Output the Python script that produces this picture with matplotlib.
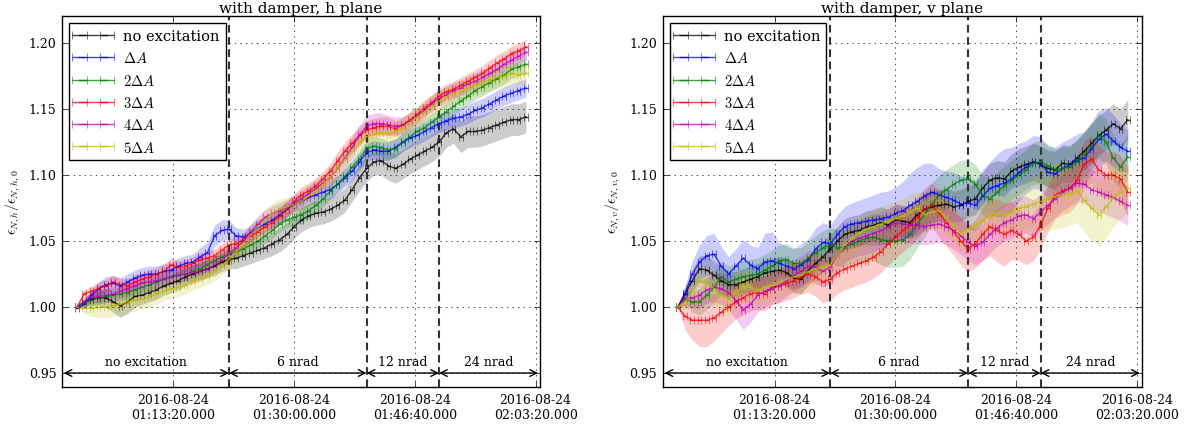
import numpy as np
import matplotlib
matplotlib.use("Agg")
import matplotlib.pyplot as plt
import matplotlib.dates as mdates

plt.style.use("classic")
plt.rcParams["font.family"] = "serif"
plt.rcParams["font.serif"] = ["DejaVu Serif"]
plt.rcParams["mathtext.fontset"] = "cm"

# one sample per minute from 01:00:00
start = np.datetime64("2016-08-24T01:00:00")
times = mdates.date2num(start + np.arange(63) * np.timedelta64(60, "s"))
bin_half = 15.0 / 86400  # half width of the time bin (days)

labels = ["no excitation", r"$\Delta A$", r"$2\Delta A$", r"$3\Delta A$", r"$4\Delta A$", r"$5\Delta A$"]
colors = ["k", "b", "g", "r", "m", "y"]

# ---- h plane: mean emittance growth
h_k = [1.000, 1.004, 1.006, 1.007, 1.007, 1.004, 1.001, 1.004, 1.008, 1.009,
       1.011, 1.013, 1.016, 1.018, 1.020, 1.023, 1.025, 1.027, 1.029, 1.031,
       1.034, 1.036, 1.037, 1.039, 1.041, 1.043, 1.045, 1.048, 1.051, 1.055,
       1.061, 1.066, 1.069, 1.071, 1.072, 1.074, 1.077, 1.081, 1.089, 1.098,
       1.105, 1.110, 1.111, 1.107, 1.105, 1.108, 1.112, 1.115, 1.118, 1.121,
       1.125, 1.132, 1.135, 1.129, 1.133, 1.133, 1.134, 1.136, 1.138, 1.140,
       1.142, 1.142, 1.144]
h_b = [0.999, 1.002, 1.009, 1.014, 1.017, 1.018, 1.016, 1.019, 1.022, 1.024,
       1.025, 1.025, 1.027, 1.028, 1.031, 1.033, 1.034, 1.038, 1.041, 1.054,
       1.058, 1.059, 1.054, 1.053, 1.056, 1.060, 1.063, 1.066, 1.070, 1.074,
       1.078, 1.080, 1.083, 1.085, 1.087, 1.089, 1.093, 1.098, 1.103, 1.110,
       1.117, 1.119, 1.118, 1.118, 1.121, 1.125, 1.128, 1.130, 1.133, 1.136,
       1.139, 1.141, 1.143, 1.144, 1.146, 1.149, 1.151, 1.154, 1.157, 1.160,
       1.162, 1.164, 1.166]
h_g = [1.000, 1.003, 1.005, 1.007, 1.008, 1.009, 1.010, 1.011, 1.013, 1.015,
       1.017, 1.019, 1.021, 1.023, 1.024, 1.025, 1.027, 1.029, 1.032, 1.035,
       1.038, 1.040, 1.042, 1.044, 1.047, 1.050, 1.054, 1.058, 1.063, 1.066,
       1.068, 1.070, 1.073, 1.077, 1.082, 1.088, 1.093, 1.099, 1.106, 1.112,
       1.120, 1.122, 1.121, 1.119, 1.120, 1.125, 1.129, 1.133, 1.136, 1.140,
       1.144, 1.148, 1.152, 1.156, 1.160, 1.164, 1.167, 1.170, 1.173, 1.176,
       1.180, 1.182, 1.184]
h_r = [1.000, 1.010, 1.012, 1.014, 1.016, 1.019, 1.017, 1.016, 1.019, 1.021,
       1.023, 1.025, 1.027, 1.032, 1.030, 1.031, 1.033, 1.036, 1.037, 1.039,
       1.043, 1.047, 1.048, 1.051, 1.054, 1.057, 1.061, 1.064, 1.069, 1.074,
       1.080, 1.085, 1.088, 1.092, 1.097, 1.103, 1.111, 1.118, 1.124, 1.130,
       1.134, 1.136, 1.137, 1.137, 1.135, 1.138, 1.142, 1.146, 1.151, 1.155,
       1.160, 1.163, 1.165, 1.168, 1.171, 1.174, 1.177, 1.181, 1.185, 1.188,
       1.192, 1.194, 1.197]
h_m = [1.000, 1.004, 1.007, 1.008, 1.009, 1.010, 1.012, 1.014, 1.016, 1.018,
       1.019, 1.020, 1.021, 1.023, 1.024, 1.025, 1.026, 1.027, 1.029, 1.032,
       1.036, 1.040, 1.045, 1.050, 1.057, 1.063, 1.068, 1.071, 1.073, 1.076,
       1.079, 1.082, 1.086, 1.090, 1.094, 1.098, 1.105, 1.113, 1.121, 1.130,
       1.137, 1.139, 1.139, 1.138, 1.137, 1.138, 1.141, 1.145, 1.149, 1.154,
       1.158, 1.161, 1.164, 1.166, 1.169, 1.171, 1.174, 1.177, 1.180, 1.184,
       1.187, 1.190, 1.193]
h_y = [1.000, 0.999, 0.999, 1.000, 1.000, 1.001, 1.002, 1.004, 1.005, 1.006,
       1.008, 1.010, 1.012, 1.014, 1.015, 1.017, 1.020, 1.022, 1.024, 1.027,
       1.031, 1.036, 1.042, 1.048, 1.055, 1.060, 1.066, 1.071, 1.074, 1.076,
       1.078, 1.080, 1.084, 1.088, 1.093, 1.098, 1.105, 1.112, 1.119, 1.125,
       1.129, 1.131, 1.132, 1.131, 1.133, 1.136, 1.140, 1.144, 1.148, 1.152,
       1.156, 1.159, 1.162, 1.164, 1.166, 1.168, 1.170, 1.172, 1.174, 1.175,
       1.177, 1.176, 1.177]

# h plane: spread (1e-3)
h_k_std = [0, 3, 5, 6, 7, 8, 9, 9, 8, 7, 7, 7, 7, 7, 7, 7, 7, 7, 7, 7,
           7, 7, 8, 8, 8, 8, 8, 9, 9, 9, 9, 9, 9, 9, 9, 9, 9, 9, 9, 10,
           10, 10, 11, 11, 11, 11, 11, 11, 11, 11, 11, 11, 11, 12, 12, 12, 12, 12, 12, 12,
           12, 12, 12]
h_b_std = [0, 3, 4, 5, 6, 6, 6, 6, 6, 6, 6, 6, 6, 6, 6, 6, 6, 7, 8, 8,
           8, 7, 6, 6, 6, 6, 6, 6, 6, 6, 6, 6, 6, 6, 6, 7, 7, 7, 7, 7,
           7, 7, 7, 7, 7, 7, 7, 7, 7, 7, 7, 7, 7, 7, 7, 7, 7, 7, 7, 7,
           7, 7, 7]
h_g_std = [0, 3, 4, 5, 5, 5, 5, 5, 5, 5, 5, 5, 5, 5, 5, 5, 5, 5, 5, 5,
           5, 5, 5, 5, 5, 5, 5, 6, 6, 6, 6, 6, 6, 6, 6, 6, 6, 6, 6, 7,
           7, 7, 7, 7, 7, 7, 7, 7, 7, 7, 7, 7, 7, 7, 7, 7, 7, 7, 7, 7,
           7, 7, 7]
h_r_std = [0, 3, 4, 5, 5, 5, 5, 5, 5, 5, 5, 5, 5, 5, 5, 5, 5, 5, 5, 5,
           5, 5, 5, 5, 5, 5, 6, 6, 6, 6, 6, 6, 6, 6, 6, 6, 7, 7, 7, 7,
           7, 7, 7, 7, 6, 6, 6, 6, 6, 6, 6, 6, 6, 6, 6, 6, 6, 6, 6, 6,
           6, 6, 6]
h_m_std = [0, 3, 4, 5, 5, 5, 5, 6, 6, 6, 6, 6, 6, 6, 6, 6, 6, 6, 6, 6,
           6, 6, 6, 6, 6, 6, 6, 6, 6, 6, 6, 6, 6, 6, 6, 7, 7, 8, 8, 8,
           8, 8, 8, 7, 7, 6, 6, 6, 6, 6, 6, 6, 6, 6, 6, 6, 6, 6, 6, 6,
           6, 6, 6]
h_y_std = [0, 4, 6, 8, 8, 8, 8, 8, 8, 8, 8, 8, 7, 7, 7, 7, 7, 7, 7, 7,
           7, 7, 7, 7, 8, 8, 8, 8, 8, 7, 7, 7, 7, 7, 7, 7, 7, 7, 7, 7,
           7, 7, 7, 7, 7, 7, 8, 8, 8, 8, 8, 8, 8, 8, 8, 8, 8, 8, 8, 8,
           8, 8, 8]

# ---- v plane: mean emittance growth
v_k = [1.000, 1.010, 1.020, 1.029, 1.028, 1.024, 1.020, 1.017, 1.017, 1.019,
       1.021, 1.023, 1.026, 1.027, 1.028, 1.026, 1.022, 1.021, 1.028, 1.033,
       1.038, 1.044, 1.050, 1.055, 1.057, 1.058, 1.061, 1.062, 1.064, 1.062,
       1.066, 1.065, 1.064, 1.070, 1.074, 1.076, 1.077, 1.078, 1.076, 1.077,
       1.080, 1.082, 1.090, 1.096, 1.098, 1.097, 1.103, 1.106, 1.108, 1.110,
       1.108, 1.105, 1.104, 1.109, 1.108, 1.113, 1.118, 1.124, 1.130, 1.134,
       1.139, 1.135, 1.142]
v_b = [1.000, 1.010, 1.025, 1.034, 1.039, 1.040, 1.031, 1.025, 1.031, 1.037,
       1.032, 1.029, 1.034, 1.035, 1.033, 1.031, 1.029, 1.032, 1.036, 1.044,
       1.049, 1.048, 1.055, 1.061, 1.063, 1.064, 1.065, 1.066, 1.067, 1.068,
       1.071, 1.073, 1.077, 1.080, 1.084, 1.087, 1.085, 1.083, 1.081, 1.078,
       1.079, 1.077, 1.084, 1.090, 1.092, 1.094, 1.097, 1.102, 1.106, 1.110,
       1.109, 1.102, 1.101, 1.105, 1.108, 1.111, 1.113, 1.120, 1.127, 1.131,
       1.126, 1.121, 1.118]
v_g = [1.000, 1.006, 1.004, 1.004, 1.009, 1.015, 1.023, 1.019, 1.021, 1.023,
       1.024, 1.025, 1.028, 1.031, 1.035, 1.036, 1.033, 1.033, 1.037, 1.041,
       1.045, 1.047, 1.045, 1.045, 1.048, 1.050, 1.052, 1.053, 1.051, 1.050,
       1.050, 1.051, 1.055, 1.063, 1.070, 1.078, 1.085, 1.089, 1.093, 1.096,
       1.097, 1.093, 1.085, 1.082, 1.087, 1.092, 1.096, 1.100, 1.104, 1.109,
       1.110, 1.107, 1.104, 1.105, 1.106, 1.110, 1.116, 1.122, 1.130, 1.125,
       1.113, 1.106, 1.114]
v_r = [1.000, 0.993, 0.990, 0.990, 0.990, 0.992, 0.996, 1.000, 1.004, 1.007,
       1.010, 1.011, 1.010, 1.015, 1.016, 1.018, 1.020, 1.023, 1.025, 1.023,
       1.019, 1.021, 1.026, 1.029, 1.031, 1.033, 1.035, 1.038, 1.042, 1.048,
       1.053, 1.058, 1.062, 1.068, 1.074, 1.077, 1.071, 1.064, 1.057, 1.050,
       1.044, 1.048, 1.055, 1.061, 1.058, 1.055, 1.058, 1.055, 1.050, 1.053,
       1.062, 1.075, 1.085, 1.088, 1.090, 1.096, 1.108, 1.112, 1.104, 1.100,
       1.100, 1.097, 1.087]
v_m = [1.000, 1.007, 1.007, 1.009, 1.013, 1.015, 1.014, 1.011, 1.005, 0.998,
       1.002, 1.009, 1.012, 1.014, 1.016, 1.020, 1.024, 1.027, 1.031, 1.030,
       1.027, 1.030, 1.040, 1.046, 1.050, 1.052, 1.054, 1.056, 1.058, 1.061,
       1.064, 1.063, 1.062, 1.062, 1.061, 1.062, 1.063, 1.061, 1.058, 1.054,
       1.049, 1.046, 1.049, 1.055, 1.060, 1.064, 1.066, 1.069, 1.070, 1.067,
       1.072, 1.077, 1.082, 1.087, 1.090, 1.094, 1.093, 1.089, 1.087, 1.085,
       1.083, 1.080, 1.077]
v_y = [1.000, 1.004, 1.012, 1.020, 1.018, 1.014, 1.009, 1.006, 1.011, 1.016,
       1.015, 1.013, 1.015, 1.017, 1.019, 1.021, 1.023, 1.024, 1.027, 1.029,
       1.030, 1.032, 1.040, 1.047, 1.052, 1.056, 1.059, 1.061, 1.063, 1.065,
       1.067, 1.069, 1.072, 1.075, 1.070, 1.072, 1.073, 1.068, 1.062, 1.056,
       1.059, 1.062, 1.065, 1.070, 1.071, 1.070, 1.072, 1.075, 1.076, 1.078,
       1.080, 1.082, 1.084, 1.085, 1.086, 1.088, 1.081, 1.075, 1.070, 1.076,
       1.083, 1.087, 1.090]

# v plane: spread (1e-3)
v_k_std = [0, 5, 8, 10, 11, 11, 11, 10, 10, 10, 10, 10, 10, 10, 10, 11, 11, 11, 11, 11,
           11, 11, 11, 12, 12, 12, 12, 12, 12, 12, 12, 12, 12, 12, 12, 12, 12, 12, 12, 12,
           12, 12, 12, 13, 13, 13, 13, 14, 14, 14, 14, 14, 14, 14, 14, 14, 14, 15, 15, 15,
           15, 15, 15]
v_b_std = [0, 6, 10, 13, 15, 16, 15, 13, 13, 14, 15, 16, 22, 22, 16, 15, 15, 16, 16, 16,
           15, 14, 15, 15, 16, 17, 18, 19, 20, 20, 20, 22, 24, 26, 25, 22, 20, 20, 21, 21,
           20, 19, 20, 20, 24, 26, 24, 22, 20, 20, 20, 20, 20, 20, 20, 20, 20, 20, 22, 20,
           20, 18, 16]
v_g_std = [0, 5, 8, 10, 11, 12, 12, 12, 12, 12, 12, 12, 12, 12, 12, 12, 12, 12, 13, 13,
           13, 13, 14, 14, 15, 16, 17, 18, 19, 20, 20, 20, 19, 18, 17, 16, 15, 15, 15, 15,
           15, 15, 15, 15, 15, 15, 15, 15, 15, 16, 16, 16, 16, 16, 16, 16, 17, 17, 17, 17,
           17, 17, 17]
v_r_std = [0, 10, 15, 20, 20, 18, 16, 14, 13, 13, 13, 13, 13, 13, 13, 13, 13, 13, 14, 15,
           16, 16, 16, 16, 16, 16, 16, 16, 16, 16, 16, 16, 16, 16, 16, 17, 18, 18, 18, 18,
           18, 18, 20, 22, 24, 24, 22, 20, 18, 18, 18, 18, 18, 18, 18, 18, 18, 18, 18, 18,
           18, 18, 18]
v_m_std = [0, 6, 8, 10, 10, 11, 12, 13, 14, 15, 14, 13, 12, 12, 12, 12, 12, 12, 12, 12,
           12, 12, 13, 13, 13, 13, 14, 14, 14, 14, 14, 14, 14, 14, 14, 14, 14, 14, 14, 14,
           14, 14, 14, 14, 14, 14, 14, 14, 14, 14, 14, 14, 14, 14, 14, 14, 14, 15, 15, 15,
           15, 15, 15]
v_y_std = [0, 6, 9, 11, 12, 12, 12, 12, 12, 12, 12, 12, 12, 12, 12, 12, 12, 12, 12, 12,
           12, 12, 12, 13, 13, 13, 13, 13, 13, 13, 13, 13, 13, 13, 13, 13, 13, 13, 13, 14,
           14, 14, 14, 14, 14, 14, 15, 16, 18, 20, 22, 24, 25, 25, 24, 24, 24, 24, 24, 24,
           22, 20, 18]

# excitation phases
phase_edges = ["2016-08-24T00:58:10", "2016-08-24T01:21:00", "2016-08-24T01:40:00",
               "2016-08-24T01:50:00", "2016-08-24T02:03:40"]
phase_names = ["no excitation", "6 nrad", "12 nrad", "24 nrad"]
tick_times = ["2016-08-24T01:13:20", "2016-08-24T01:30:00",
              "2016-08-24T01:46:40", "2016-08-24T02:03:20"]
xlim = ["2016-08-24T00:57:56", "2016-08-24T02:03:56"]


def dnum(s):
    return mdates.date2num(np.datetime64(s))


def panel(ax, means, stds, plane):
    for m, s, c in zip(means, stds, colors):
        m = np.array(m)
        s = np.array(s) * 1e-3
        ax.fill_between(times, m - s, m + s, color=c, alpha=0.2, lw=0)
    for m, c, lab in zip(means, colors, labels):
        ax.errorbar(times, m, xerr=bin_half, color=c, label=lab, lw=1,
                    elinewidth=1, capsize=3, alpha=0.75)

    edges = [dnum(e) for e in phase_edges]
    for e in edges[1:-1]:
        ax.axvline(e, color="0.2", ls="--", lw=1.5, dashes=(5.5, 3.3))
    for a, b, name in zip(edges[:-1], edges[1:], phase_names):
        ax.annotate("", xy=(b, 0.95), xytext=(a, 0.95),
                    arrowprops=dict(arrowstyle="<->", color="k", lw=1, shrinkA=0, shrinkB=0))
        ax.text((a + b) / 2, 0.9585, name, ha="center", va="center", fontsize=9)

    ax.set_xticks([dnum(t) for t in tick_times])
    ax.xaxis.set_major_formatter(mdates.DateFormatter("%Y-%m-%d\n%H:%M:%S.000"))
    ax.set_xlim(dnum(xlim[0]), dnum(xlim[1]))
    ax.set_ylim(0.9394, 1.2205)
    ax.set_yticks([0.95, 1.00, 1.05, 1.10, 1.15, 1.20])
    ax.yaxis.set_major_formatter(matplotlib.ticker.FormatStrFormatter("%.2f"))
    ax.tick_params(labelsize=9)
    ax.grid(True)
    ax.set_title("with damper, %s plane" % plane, fontsize=11, pad=3)
    ax.set_ylabel(r"$\epsilon_{N,%s}/\epsilon_{N,%s,0}$" % (plane, plane), fontsize=10)
    ax.legend(loc="upper left", fontsize=10.5, handlelength=2.5, numpoints=2)


fig = plt.figure(figsize=(11.89, 4.27), dpi=100, facecolor="white")
ax1 = fig.add_axes([0.0521, 0.0913, 0.402, 0.8689])
ax2 = fig.add_axes([0.5574, 0.0913, 0.4029, 0.8689])

panel(ax1, [h_k, h_b, h_g, h_r, h_m, h_y],
      [h_k_std, h_b_std, h_g_std, h_r_std, h_m_std, h_y_std], "h")
panel(ax2, [v_k, v_b, v_g, v_r, v_m, v_y],
      [v_k_std, v_b_std, v_g_std, v_r_std, v_m_std, v_y_std], "v")

fig.savefig("out.png", dpi=100, facecolor="white")
